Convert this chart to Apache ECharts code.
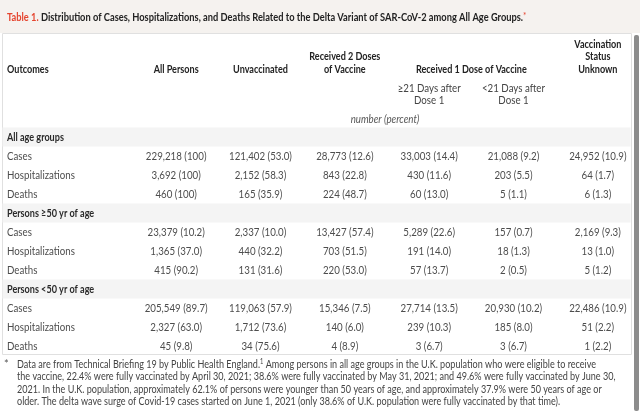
<!DOCTYPE html>
<html><head><meta charset="utf-8">
<script src="https://cdn.jsdelivr.net/npm/echarts@6/dist/echarts.min.js"></script>
<style>html,body{margin:0;padding:0;background:#fff;overflow:hidden}#c{width:640px;height:414px}</style>
</head><body><div id="c"></div><script>
// ---- data ----
const columns = ['All Persons','Unvaccinated','Received 2 Doses of Vaccine','≥21 Days after Dose 1','<21 Days after Dose 1','Vaccination Status Unknown'];
const colHeads = [['All Persons'],['Unvaccinated'],['Received 2 Doses','of Vaccine'],[],[],['Vaccination','Status','Unknown']];
const subHeads = [[],[],[],['≥21 Days after','Dose 1'],['<21 Days after','Dose 1'],[]];
const spanner = 'Received 1 Dose of Vaccine';
const unitLabel = 'number (percent)';
const groups = ['All age groups','Persons ≥50 yr of age','Persons <50 yr of age'];
const outcomes = ['Cases','Hospitalizations','Deaths'];
const allAgesCount = [[229218,121402,28773,33003,21088,24952],[3692,2152,843,430,203,64],[460,165,224,60,5,6]];
const allAgesPct   = [[100,53.0,12.6,14.4,9.2,10.9],[100,58.3,22.8,11.6,5.5,1.7],[100,35.9,48.7,13.0,1.1,1.3]];
const age50PlusCount = [[23379,2337,13427,5289,157,2169],[1365,440,703,191,18,13],[415,131,220,57,2,5]];
const age50PlusPct   = [[10.2,10.0,57.4,22.6,0.7,9.3],[37.0,32.2,51.5,14.0,1.3,1.0],[90.2,31.6,53.0,13.7,0.5,1.2]];
const under50Count = [[205549,119063,15346,27714,20930,22486],[2327,1712,140,239,185,51],[45,34,4,3,3,1]];
const under50Pct   = [[89.7,57.9,7.5,13.5,10.2,10.9],[63.0,73.6,6.0,10.3,8.0,2.2],[9.8,75.6,8.9,6.7,6.7,2.2]];
const titleLead = 'Table 1.';
const titleText = 'Distribution of Cases, Hospitalizations, and Deaths Related to the Delta Variant of SAR-CoV-2 among All Age Groups.';
const footLines = [
  'Data are from Technical Briefing 19 by Public Health England.{s|1} Among persons in all age groups in the U.K. population who were eligible to receive',
  'the vaccine, 22.4% were fully vaccinated by April 30, 2021; 38.6% were fully vaccinated by May 31, 2021; and 49.6% were fully vaccinated by June 30,',
  '2021. In the U.K. population, approximately 62.1% of persons were younger than 50 years of age, and approximately 37.9% were 50 years of age or',
  'older. The delta wave surge of Covid-19 cases started on June 1, 2021 (only 38.6% of U.K. population were fully vaccinated by that time).'
];

// ---- layout / style ----
const FAM = 'Lato, "Liberation Sans", sans-serif';
const FS = 11.5;
const BODY = FS + 'px ' + FAM, BOLD = 'bold ' + FS + 'px ' + FAM;
const TL = 2, TR = 631, TT = 33, TB = 354;
const cv = document.createElement('canvas').getContext('2d');
function measure(font, t){ cv.font = font; return cv.measureText(t).width; }
const SX = 68 / measure(BODY, 'Hospitalizations');
const SXB = 47 / measure(BOLD, 'Vaccination');
const titleSX = 520 / measure(BOLD, titleLead + ' ' + titleText + '*');
const FOOT = '11px ' + FAM;
const footSX = 581 / measure(FOOT, footLines[0].replace('{s|1}', '1'));

// ---- build rows/cells ----
const groupCounts = [allAgesCount, age50PlusCount, under50Count];
const groupPcts = [allAgesPct, age50PlusPct, under50Pct];
const rowKeys = [], rowLabels = [], rowIsGroup = [];
groups.forEach((g, gi) => {
  rowKeys.push('g' + gi); rowLabels.push(g); rowIsGroup.push(true);
  outcomes.forEach((o, oi) => { rowKeys.push('g' + gi + 'o' + oi); rowLabels.push(o); rowIsGroup.push(false); });
});
const cellData = [], cellText = [];
groups.forEach((g, gi) => outcomes.forEach((o, oi) => columns.forEach((c, ci) => {
  const row = gi * 4 + 1 + oi;
  const n = groupCounts[gi][oi][ci], p = groupPcts[gi][oi][ci];
  cellData.push([ci, row]);
  cellText.push(n.toLocaleString('en-US') + ' (' + (p === 100 ? '100' : p.toFixed(1)) + ')');
})));
const bandData = rowKeys.map((k, i) => [0, i]).filter((d, i) => rowIsGroup[i]);
const labelData = rowKeys.map((k, i) => [0, i]);

const chart = echarts.init(document.getElementById('c'), null, {width: 640, height: 414});
chart.setOption({
  animation: false,
  grid: {left: 134, top: 127.5, width: 510, height: 228},
  xAxis: {type: 'category', data: columns, show: false},
  yAxis: {type: 'category', data: rowKeys, inverse: true, show: false},
  series: [
    {type: 'custom', coordinateSystem: 'cartesian2d', z: 1, silent: true, data: bandData,
     renderItem: (params, api) => {
       const p = api.coord([0, api.value(1)]); const h = api.size([0, 1])[1];
       return {type: 'rect', shape: {x: TL + 0.5, y: p[1] - h / 2, width: TR - TL - 1, height: h}, style: {fill: '#f4f4f4'}};
     }},
    {type: 'custom', coordinateSystem: 'cartesian2d', z: 3, silent: true, data: labelData,
     renderItem: (params, api) => {
       const r = api.value(1); const p = api.coord([0, r]);
       return {type: 'text', x: TL + 5, y: p[1] + 0.5, scaleX: rowIsGroup[r] ? SXB : SX,
         style: {text: rowLabels[r], font: rowIsGroup[r] ? BOLD : BODY, fill: rowIsGroup[r] ? '#2a2a2a' : '#4d4d4d', align: 'left', verticalAlign: 'middle'}};
     }},
    {type: 'custom', coordinateSystem: 'cartesian2d', z: 3, silent: true, data: cellData,
     renderItem: (params, api) => {
       const p = api.coord([api.value(0), api.value(1)]);
       return {type: 'text', x: p[0], y: p[1] + 0.5, scaleX: SX,
         style: {text: cellText[params.dataIndex], font: BODY, fill: '#4d4d4d', align: 'center', verticalAlign: 'middle'}};
     }}
  ]
});

// ---- headers, title, footnote ----
const colX = columns.map((c, i) => chart.convertToPixel({xAxisIndex: 0}, i));
const g = [];
function txt(x, y, t, font, fill, align, sx) {
  return {type: 'text', x: x, y: y, scaleX: sx, silent: true,
    style: {text: t, font: font, fill: fill, align: align, verticalAlign: 'middle'}};
}
g.push({type: 'rect', silent: true, z: 0, shape: {x: 0, y: 0, width: 640, height: TT}, style: {fill: '#f5f2ef'}});
g.push({type: 'rect', silent: true, z: 0, shape: {x: TL + 0.5, y: TT + 0.5, width: TR - TL, height: TB - TT}, style: {fill: 'none', stroke: '#e0e0e0', lineWidth: 1}});
g.push({type: 'text', x: 7, y: 17, scaleX: titleSX, silent: true,
  style: {text: '{r|' + titleLead + '} ' + titleText + '{a|*}', font: BOLD, fill: '#222', verticalAlign: 'middle', align: 'left',
    rich: {r: {fill: '#e5452f', fontWeight: 'bold', fontSize: FS, fontFamily: FAM}, a: {fill: '#e5452f', fontSize: 10, fontFamily: FAM, verticalAlign: 'top'}}}});
g.push(txt(7, 69, 'Outcomes', BOLD, '#222', 'left', SXB));
colHeads.forEach((lines, ci) => {
  lines.forEach((t, li) => {
    const y = 69 - (lines.length - 1 - li) * 12.5;
    g.push(txt(colX[ci], y, t, BOLD, '#222', 'center', SXB));
  });
});
g.push(txt((colX[3] + colX[4]) / 2, 69, spanner, BOLD, '#222', 'center', SXB));
subHeads.forEach((lines, ci) => {
  lines.forEach((t, li) => g.push(txt(colX[ci], 88 + li * 12.5, t, BODY, '#444', 'center', SX)));
});
g.push(txt((colX[0] + colX[5]) / 2 - 2, 119, unitLabel, 'italic ' + FS + 'px ' + FAM, '#555', 'center', SX));
g.push(txt(4, 364, '*', FOOT, '#555', 'left', 1));
footLines.forEach((t, i) => {
  g.push({type: 'text', x: 17, y: 364 + i * 12.5, scaleX: footSX, silent: true,
    style: {text: t, font: FOOT, fill: '#444', align: 'left', verticalAlign: 'middle',
      rich: {s: {fontSize: 7, fontFamily: FAM, fill: '#444', verticalAlign: 'top'}}}});
});
g.push({type: 'rect', silent: true, z: 10, shape: {x: 634, y: 35, width: 5, height: 376, r: 2}, style: {fill: '#8c8c8c'}});
chart.setOption({graphic: g});
</script></body></html>
